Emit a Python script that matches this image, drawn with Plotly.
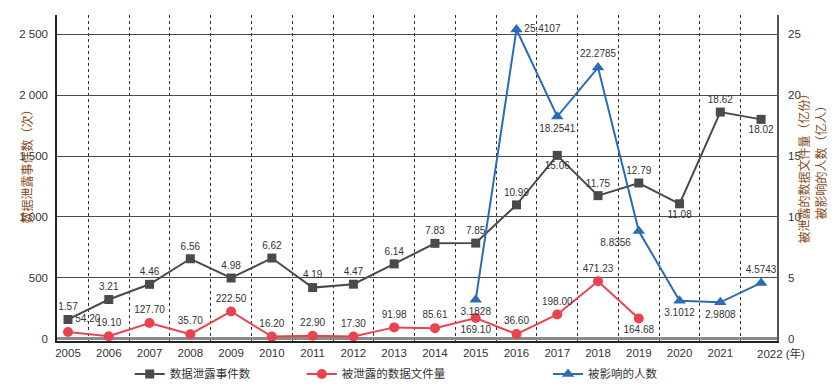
import plotly.graph_objects as go

years = list(range(2005, 2023))
incidents = [1.57, 3.21, 4.46, 6.56, 4.98, 6.62, 4.19, 4.47, 6.14, 7.83, 7.85,
             10.99, 15.06, 11.75, 12.79, 11.08, 18.62, 18.02]
files_years = list(range(2005, 2020))
files = [54.20, 19.10, 127.70, 35.70, 222.50, 16.20, 22.90, 17.30, 91.98, 85.61,
         169.10, 36.60, 198.00, 471.23, 164.68]
people_years = list(range(2015, 2023))
people = [3.1828, 25.4107, 18.2541, 22.2785, 8.8356, 3.1012, 2.9808, 4.5743]

left_ticks = [0, 500, 1000, 1500, 2000, 2500]
left_ticktext = ["0", "500", "1 000", "1 500", "2 000", "2 500"]
right_ticks = [0, 5, 10, 15, 20, 25]

name_incidents = "数据泄露事件数"
name_files = "被泄露的数据文件量"
name_people = "被影响的人数"

pos_incidents = ["top center"] * 12 + ["bottom center", "top center", "top center",
                                       "bottom center", "top center", "bottom center"]
pos_files = ["top right"] + ["top center"] * 9 + ["bottom center", "top center",
                                                  "top center", "top center", "bottom center"]
pos_people = ["bottom center", "middle right", "bottom center", "top center",
              "bottom left", "bottom center", "bottom center", "top center"]

FONT = "Liberation Sans, Arial, Noto Sans CJK SC, sans-serif"
TXT = "#333333"
BROWN = "#8a4b22"
C_BLACK = "#4a4a4a"
C_RED = "#e8434f"
C_BLUE = "#2a6db6"
LBL = dict(size=10, color=TXT)

fig = go.Figure()

fig.add_trace(go.Scatter(
    x=years, y=incidents, yaxis="y2", name=name_incidents,
    mode="lines+markers+text", text=[f"{v:.2f}" for v in incidents],
    textposition=pos_incidents, textfont=LBL,
    line=dict(color=C_BLACK, width=2),
    marker=dict(symbol="square", size=9, color=C_BLACK),
    cliponaxis=False, legend="legend"))

fig.add_trace(go.Scatter(
    x=files_years, y=files, yaxis="y", name=name_files,
    mode="lines+markers+text", text=[f"{v:.2f}" for v in files],
    textposition=pos_files, textfont=LBL,
    line=dict(color=C_RED, width=2),
    marker=dict(symbol="circle", size=10, color=C_RED),
    cliponaxis=False, legend="legend2"))

fig.add_trace(go.Scatter(
    x=people_years, y=people, yaxis="y2", name=name_people,
    mode="lines+markers+text", text=[f"{v:.4f}" for v in people],
    textposition=pos_people, textfont=LBL,
    line=dict(color=C_BLUE, width=2),
    marker=dict(symbol="triangle-up", size=11, color=C_BLUE),
    cliponaxis=False, legend="legend3"))

LR = [-20, 2660]
RR = [LR[0] / 100, LR[1] / 100]

legend_common = dict(orientation="h", y=-0.101, xanchor="left", yanchor="middle",
                     font=dict(size=11.5, color=TXT), bgcolor="rgba(0,0,0,0)")

fig.update_layout(
    width=840, height=386,
    margin=dict(l=57, r=63, t=15, b=45, autoexpand=False),
    paper_bgcolor="white", plot_bgcolor="white",
    font=dict(family=FONT, size=12, color=TXT),
    xaxis=dict(
        range=[2004.73, 2022.39], tickmode="array", tickvals=years[:-1],
        ticktext=[str(y) for y in years[:-1]], showgrid=False, zeroline=False,
        showline=True, linecolor="#222222", linewidth=1.5,
        tickfont=dict(size=11.5, color=TXT),
        minor=dict(tick0=2004.5, dtick=1, showgrid=True, griddash="dot",
                   gridcolor="#333333", gridwidth=1),
    ),
    yaxis=dict(
        range=LR, tickmode="array", tickvals=left_ticks, ticktext=left_ticktext,
        showgrid=True, gridcolor="#4a4a4a", gridwidth=1.3,
        zeroline=True, zerolinecolor="#8a8a8a", zerolinewidth=3,
        showline=True, linecolor="#222222", linewidth=1.5,
        tickfont=dict(size=11.5, color=TXT), ticklabelstandoff=5,
    ),
    yaxis2=dict(
        range=RR, overlaying="y", side="right", tickmode="array",
        tickvals=right_ticks, showgrid=False, zeroline=False,
        showline=True, linecolor="#555555", linewidth=1.5,
        tickfont=dict(size=11.5, color=TXT), ticklabelstandoff=7,
    ),
    legend=dict(x=0.101, **legend_common),
    legend2=dict(x=0.340, **legend_common),
    legend3=dict(x=0.682, **legend_common),
    showlegend=True,
)

# last category label with unit
fig.add_annotation(x=years[-1], y=0, xref="x", yref="paper", text="2022 (年)",
                   showarrow=False, xanchor="left", yanchor="top", xshift=-6, yshift=-4,
                   font=dict(size=11.5, color=TXT))

# axis titles
fig.add_annotation(x=0, y=0.5, xref="paper", yref="paper", xshift=-40, yshift=14,
                   text="数据泄露事件数（次）", textangle=-90, showarrow=False,
                   font=dict(size=12, color=BROWN))
fig.add_annotation(x=1, y=0.5, xref="paper", yref="paper", xshift=36, yshift=12,
                   text="被泄露的数据文件量（亿份）", textangle=-90, showarrow=False,
                   font=dict(size=12, color=BROWN))
fig.add_annotation(x=1, y=0.5, xref="paper", yref="paper", xshift=53, yshift=18,
                   text="被影响的人数（亿人）", textangle=-90, showarrow=False,
                   font=dict(size=12, color=BROWN))

fig.write_html("out.html", config={"displayModeBar": False},
               post_script="document.body.style.margin='0';document.body.style.overflow='hidden';")
